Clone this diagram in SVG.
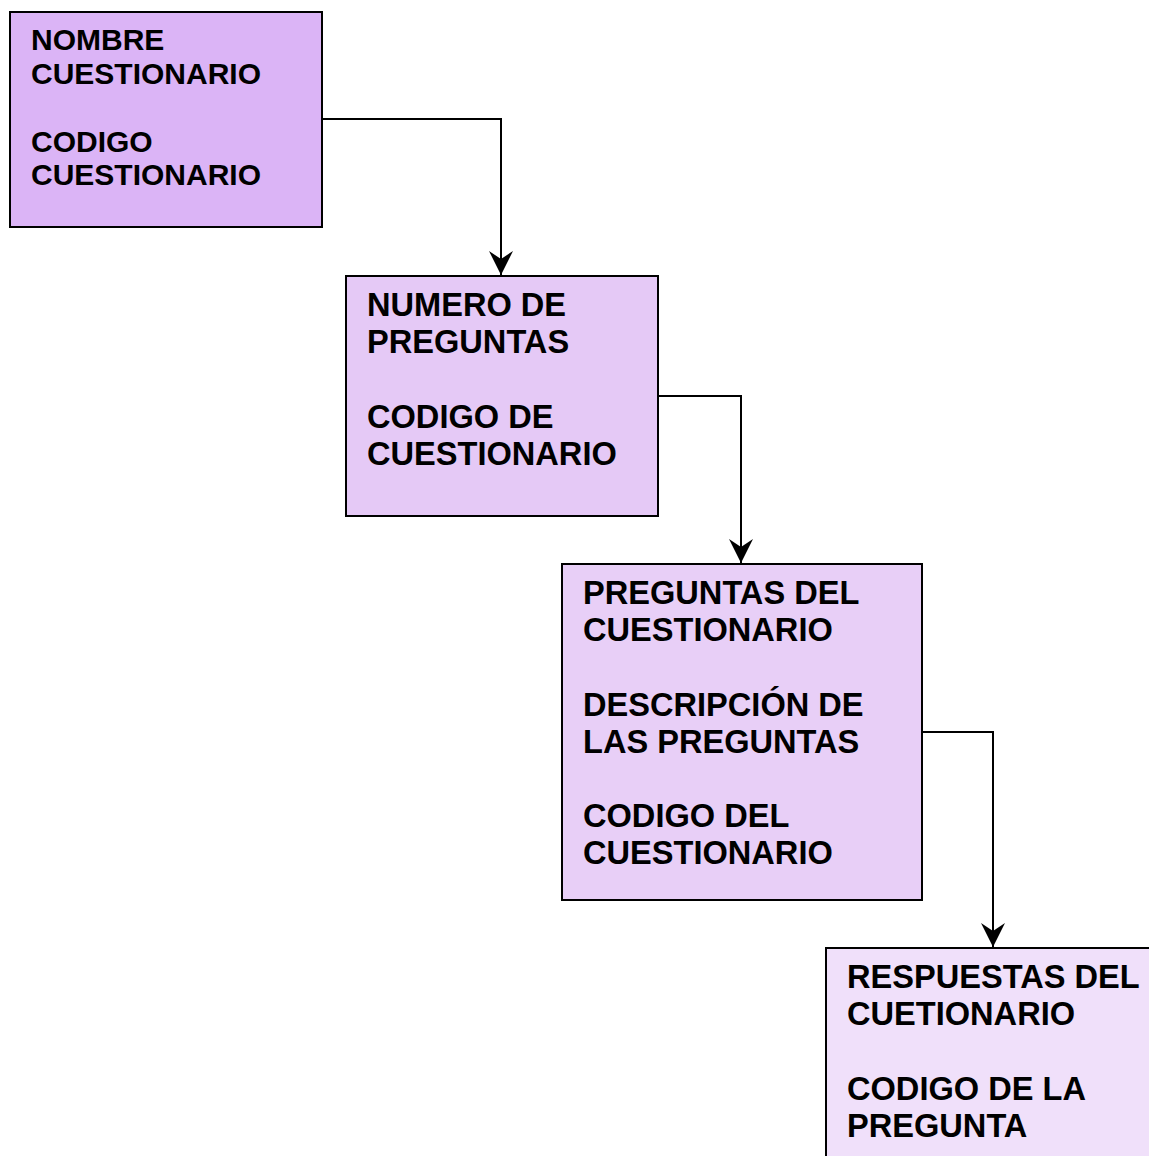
<svg xmlns="http://www.w3.org/2000/svg" width="1149" height="1156" viewBox="0 0 1149 1156">
<style>
.box{stroke:#000;stroke-width:2}
.t{font-family:"Liberation Sans",Arial,sans-serif;font-weight:bold;fill:#000}
.t1{font-size:30px}
.t2{font-size:32.6px}
.con{fill:none;stroke:#000;stroke-width:2}
</style>
<defs>
<marker id="arr" markerWidth="28" markerHeight="28" refX="24" refY="13" orient="auto" markerUnits="userSpaceOnUse">
<path d="M0,1 L24,13 L0,25 L8,13 Z" fill="#000"/>
</marker>
</defs>
<rect width="1149" height="1156" fill="#fff"/>
<g id="connectors">
<path class="con" d="M322,119 H501 V275" marker-end="url(#arr)"/>
<path class="con" d="M658,396 H741 V563" marker-end="url(#arr)"/>
<path class="con" d="M922,732 H993 V947" marker-end="url(#arr)"/>
</g>
<g id="n1">
<rect class="box" x="10" y="12" width="312" height="215" fill="#dbb4f6"/>
<text class="t t1" x="31" y="50">NOMBRE</text>
<text class="t t1" x="31" y="84">CUESTIONARIO</text>
<text class="t t1" x="31" y="152">CODIGO</text>
<text class="t t1" x="31" y="185">CUESTIONARIO</text>
</g>
<g id="n2">
<rect class="box" x="346" y="276" width="312" height="240" fill="#e5c9f6"/>
<text class="t t2" x="367" y="316">NUMERO DE</text>
<text class="t t2" x="367" y="353">PREGUNTAS</text>
<text class="t t2" x="367" y="428">CODIGO DE</text>
<text class="t t2" x="367" y="465">CUESTIONARIO</text>
</g>
<g id="n3">
<rect class="box" x="562" y="564" width="360" height="336" fill="#e8cff7"/>
<text class="t t2" x="583" y="604">PREGUNTAS DEL</text>
<text class="t t2" x="583" y="641">CUESTIONARIO</text>
<text class="t t2" x="583" y="716">DESCRIPCIÓN DE</text>
<text class="t t2" x="583" y="753">LAS PREGUNTAS</text>
<text class="t t2" x="583" y="827">CODIGO DEL</text>
<text class="t t2" x="583" y="864">CUESTIONARIO</text>
</g>
<g id="n4">
<rect class="box" x="826" y="948" width="340" height="220" fill="#f0e0fa"/>
<text class="t t2" x="847" y="988">RESPUESTAS DEL</text>
<text class="t t2" x="847" y="1025">CUETIONARIO</text>
<text class="t t2" x="847" y="1100">CODIGO DE LA</text>
<text class="t t2" x="847" y="1137">PREGUNTA</text>
</g>
</svg>
